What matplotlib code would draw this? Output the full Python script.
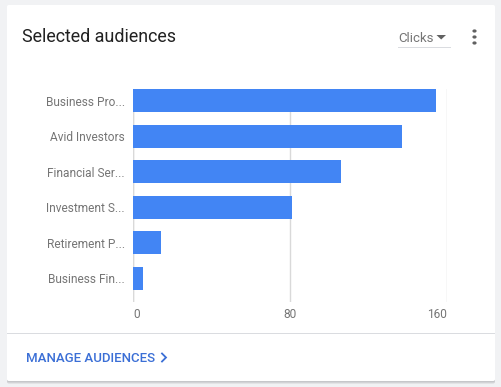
import matplotlib
matplotlib.use('Agg')
import matplotlib.pyplot as plt
from matplotlib.patches import FancyBboxPatch, Rectangle, Polygon
from matplotlib.lines import Line2D

# Data
audiences = ['Business Pro...', 'Avid Investors', 'Financial Ser...',
             'Investment S...', 'Retirement P...', 'Business Fin...']
clicks = [154, 137, 106, 81, 14, 5]
x_ticks = [0, 80, 160]

W, H = 501, 387
plt.rcParams['font.family'] = ['Roboto', 'DejaVu Sans']

fig = plt.figure(figsize=(W / 100, H / 100), dpi=100)
fig.patch.set_facecolor('#f1f2f4')


def fx(px):
    return px / W


def fy(py):
    return 1 - py / H


# Card with soft shadow
for off, col in [(2.5, '#d6d7da'), (1.2, '#c6c7ca')]:
    fig.patches.append(FancyBboxPatch((fx(7), fy(381 + off)), fx(488), (381 - 5) / H,
                                      boxstyle='round,pad=0,rounding_size=0.004',
                                      transform=fig.transFigure, facecolor=col,
                                      edgecolor='none', zorder=0))
fig.patches.append(FancyBboxPatch((fx(7), fy(381)), fx(488), (381 - 5) / H,
                                  boxstyle='round,pad=0,rounding_size=0.004',
                                  transform=fig.transFigure, facecolor='white',
                                  edgecolor='none', zorder=1))
# Divider
fig.patches.append(Rectangle((fx(7), fy(334)), fx(488), 1 / H, transform=fig.transFigure,
                             facecolor='#dadce0', edgecolor='none', zorder=2))

# Header
fig.text(fx(22.5), fy(42.5), 'Selected audiences', fontsize=12.9, color='#212121',
         ha='left', va='baseline')
fig.text(fx(398), fy(41.5), 'Clicks', fontsize=9.5, color='#757575',
         ha='left', va='baseline')
fig.patches.append(Polygon([(fx(436.5), fy(35)), (fx(446), fy(35)), (fx(441.2), fy(39.5))],
                           closed=True, transform=fig.transFigure,
                           facecolor='#616161', edgecolor='none', zorder=3))
fig.patches.append(Rectangle((fx(398), fy(48)), fx(53), 1 / H, transform=fig.transFigure,
                             facecolor='#dadce0', edgecolor='none', zorder=3))
for dy in [31, 37, 43]:
    fig.patches.append(plt.Circle((fx(474.5), fy(dy)), 2.1 / W, transform=fig.transFigure,
                                  facecolor='#616161', edgecolor='none', zorder=3))

# Footer link
fig.text(fx(26), fy(362), 'MANAGE AUDIENCES', fontsize=9.5, color='#3b6fd6',
         fontweight='medium', ha='left', va='baseline')
fig.lines.append(Line2D([fx(162), fx(166), fx(162)], [fy(353.5), fy(357.5), fy(361.5)],
                        transform=fig.transFigure, color='#3b6fd6', linewidth=1.3,
                        solid_joinstyle='miter', zorder=3))

# Bar chart
ax = fig.add_axes([fx(133), fy(302), (447.3 - 133) / W, (302 - 89) / H])
ax.set_facecolor('none')
ax.set_zorder(5)
pos = list(range(len(audiences)))
ax.barh(pos, clicks, height=0.647, color='#4285f4', zorder=3)
ax.set_ylim(5.668, -0.3235)
ax.set_xlim(0, 160)
ax.set_xticks(x_ticks)
ax.set_xticklabels([str(t) for t in x_ticks])
ax.set_yticks(pos)
ax.set_yticklabels(audiences)
ax.tick_params(axis='both', length=0, labelsize=8.6, labelcolor='#757575')
ax.tick_params(axis='y', pad=6)
ax.tick_params(axis='x', pad=4.5)
xl = ax.get_xticklabels()
xl[0].set_ha('left')
xl[-1].set_ha('right')
ax.grid(axis='x', color='#d9d9d9', linewidth=1, zorder=0)
ax.axvline(0, color='#d9d9d9', linewidth=1, zorder=1)
for s in ax.spines.values():
    s.set_visible(False)

fig.savefig('out.png', dpi=100, facecolor=fig.get_facecolor())
